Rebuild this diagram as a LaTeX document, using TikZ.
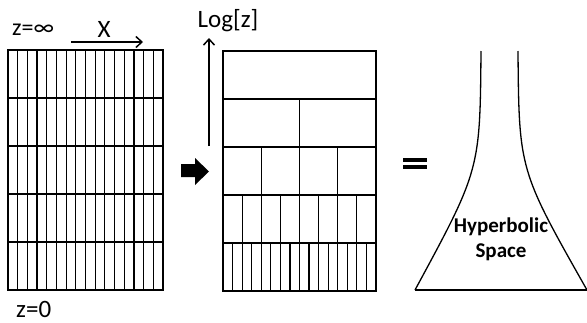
\documentclass[tikz,border=0pt]{standalone}
\usepackage{fontspec}
\setmainfont{Carlito}
\usetikzlibrary{arrows.meta}

\begin{document}
\begin{tikzpicture}[x=1pt, y=-1pt,
  frame/.style={line width=2.6pt},
  cell/.style={line width=1.2pt},
  axis/.style={line width=1.5pt, -{Straight Barb[length=6pt,width=11pt,line width=1.5pt]}},
  lab/.style={font=\fontsize{25}{28}\selectfont, inner sep=0pt}]
  \useasboundingbox (0,0) rectangle (587,322);

  % 左：均匀网格，16 列 x 5 行
  \foreach \i in {1,...,15}
    \draw[cell] ({8+\i*155/16},50) -- ({8+\i*155/16},290);
  \foreach \j in {1,...,4}
    \draw[cell] (8,{50+\j*48}) -- (163,{50+\j*48});
  \draw[frame] (8,50) rectangle (163,290);

  % 中：往下每行列数加倍
  \foreach \j in {1,...,4}
    \draw[cell] (223,{51+\j*48}) -- (376,{51+\j*48});
  \foreach \j/\n in {1/2, 2/4, 3/8, 4/16} {
    \pgfmathtruncatemacro\m{\n-1}
    \foreach \i in {1,...,\m}
      \draw[cell] ({223+\i*153/\n},{51+\j*48}) -- ({223+\i*153/\n},{51+(\j+1)*48});
  }
  \draw[frame] (223,51) rectangle (376,291);

  % 粗箭头与等号
  \fill (181,164) -- (195,164) -- (195,158) -- (209,171.5) -- (195,185)
    -- (195,177) -- (181,177) -- cycle;
  \fill (403,158) rectangle (427,161.5);
  \fill (403,165) rectangle (427,168.5);

  % 右：双曲空间
  \draw[line width=1.3pt] (481,51) .. controls (480,170) .. (415,290);
  \draw[line width=1.3pt] (518,51) .. controls (519,170) .. (587,290);
  \draw[line width=2.4pt] (415,290) -- (587,290);

  % 坐标轴
  \coordinate (Xs) at (71,42);
  \coordinate (Xe) at (143,42);
  \draw[axis] (Xs) -- (Xe);
  \coordinate (Lb) at (209,146);
  \coordinate (Lt) at (209,38);
  \draw[axis] (Lb) -- (Lt);

  \node[lab, font=\fontsize{24}{27}\selectfont, anchor=base west] (zinf) at (12,35) {z=∞};
  \node[lab] (xlab) at (104,29) {X};
  \node[lab, anchor=base west] (zzero) at (16,317) {z=0};
  \node[lab] (logz) at (228,21) {Log[z]};
  \node[lab, font=\fontsize{21}{25}\selectfont\bfseries, align=center]
    (hyp) at (501,239) {Hyperbolic\\Space};
\end{tikzpicture}
\end{document}
